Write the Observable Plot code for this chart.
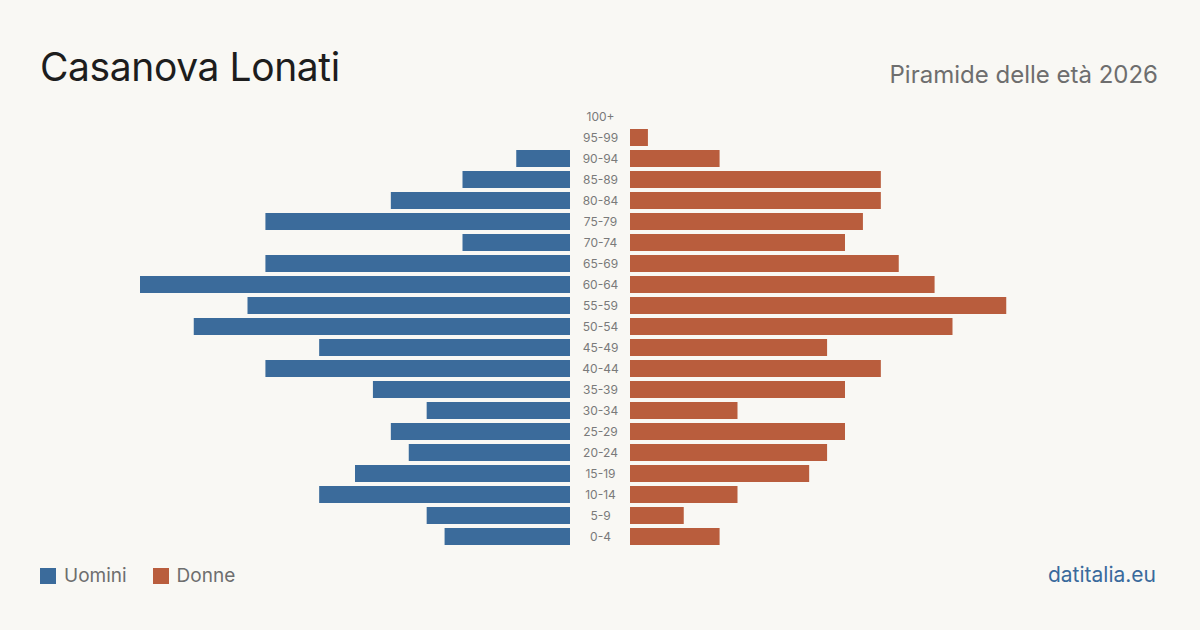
<!DOCTYPE html>
<html>
<head>
<meta charset="utf-8">
<script src="https://cdn.jsdelivr.net/npm/d3@7"></script>
<script src="https://cdn.jsdelivr.net/npm/@observablehq/plot@0.6"></script>
<style>
  html, body { margin: 0; padding: 0; background: #f9f8f4; }
  #page { position: relative; width: 1200px; height: 630px; background: #f9f8f4; font-family: Inter, "Noto Sans", sans-serif; overflow: hidden; }
  #title { position: absolute; left: 40px; top: 41px; font-size: 39px; color: #1d1d1d; letter-spacing: -0.4px; line-height: 52px; }
  #subtitle { position: absolute; right: 42px; top: 59px; font-size: 24px; color: #6e6e6e; line-height: 32px; }
  #chart { position: absolute; left: 0; top: 100px; }
  #legend { position: absolute; left: 40px; top: 564px; font-size: 19px; color: #6e6e6e; display: flex; align-items: center; line-height: 24px; }
  #legend .sw { width: 16px; height: 16px; display: inline-block; margin-right: 8px; }
  #legend .item { display: flex; align-items: center; margin-right: 26px; }
  #source { position: absolute; right: 44px; top: 561px; font-size: 21px; color: #3a6a9c; line-height: 28px; }
</style>
</head>
<body>
<div id="page">
  <div id="title">Casanova Lonati</div>
  <div id="subtitle">Piramide delle età 2026</div>
  <div id="chart"></div>
  <div id="legend"></div>
  <div id="source">datitalia.eu</div>
</div>
<script>
// Age classes, youngest first
const ages = ["0-4","5-9","10-14","15-19","20-24","25-29","30-34","35-39","40-44","45-49",
              "50-54","55-59","60-64","65-69","70-74","75-79","80-84","85-89","90-94","95-99","100+"];
// Residents per age class
const men   = [7, 8, 14, 12, 9, 10, 8, 11, 17, 14, 21, 18, 24, 17, 6, 17, 10, 6, 3, 0, 0];
const women = [5, 3, 6, 10, 11, 12, 6, 12, 14, 11, 18, 21, 17, 15, 12, 13, 14, 14, 5, 1, 0];

const seriesNames = ["Uomini", "Donne"];
const seriesColors = ["#3b6b9b", "#b95d3d"];

const rows = ages.map((age, i) => ({age, men: men[i], women: women[i]}));
const maxVal = d3.max([...men, ...women]);

const chart = Plot.plot({
  width: 1200,
  height: 455,
  marginLeft: 170,
  marginRight: 170,
  marginTop: 6,
  marginBottom: 8,
  style: {background: "transparent", fontFamily: "Inter, 'Noto Sans', sans-serif"},
  x: {domain: [-maxVal, maxVal], axis: null},
  y: {domain: ages.slice().reverse(), axis: null, paddingInner: 0.19, paddingOuter: 0.095},
  marks: [
    // men grow leftwards, women rightwards, with a gap in the middle for the age labels
    Plot.barX(rows.filter(d => d.men > 0), {x1: 0, x2: d => -d.men, y: "age", fill: seriesColors[0], dx: -30}),
    Plot.barX(rows.filter(d => d.women > 0), {x1: 0, x2: "women", y: "age", fill: seriesColors[1], dx: 30}),
    Plot.text(rows, {x: 0, y: "age", text: "age", fill: "#7a7a7a", fontSize: 12, textAnchor: "middle"})
  ]
});
document.getElementById("chart").appendChild(chart);

const legend = document.getElementById("legend");
seriesNames.forEach((name, i) => {
  const item = document.createElement("span");
  item.className = "item";
  const sw = document.createElement("span");
  sw.className = "sw";
  sw.style.background = seriesColors[i];
  item.appendChild(sw);
  item.appendChild(document.createTextNode(name));
  legend.appendChild(item);
});
</script>
</body>
</html>
